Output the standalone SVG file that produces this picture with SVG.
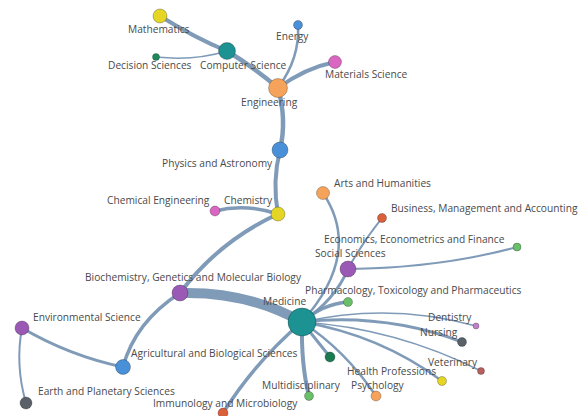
<svg xmlns="http://www.w3.org/2000/svg" width="587" height="416" viewBox="0 0 587 416">
<style>
.e{fill:none;stroke:#7592b2;stroke-linecap:round;stroke-opacity:0.92}
.n{stroke:#000;stroke-opacity:0.25;stroke-width:1}
text{font-family:"Open Sans","Noto Sans",sans-serif;font-size:10.2px;fill:#4a4a4a}
</style>
<rect width="587" height="416" fill="#fff"/>
<g id="connectors">
<path class="e" stroke-width="4" d="M160,16 Q195,38 227,51"/>
<path class="e" stroke-width="1.5" d="M156,57 Q195,61 227,51"/>
<path class="e" stroke-width="4.5" d="M227,51 Q255,68 278,88"/>
<path class="e" stroke-width="2.5" d="M298,25 Q300,58 278,88"/>
<path class="e" stroke-width="4" d="M335,62 Q305,68 278,88"/>
<path class="e" stroke-width="4.5" d="M278,88 Q287,120 280,150"/>
<path class="e" stroke-width="4" d="M280,150 Q272,182 278,214"/>
<path class="e" stroke-width="3.5" d="M215,211 Q245,203 278,214"/>
<path class="e" stroke-width="4" d="M278,214 Q219,241 180,293"/>
<path class="e" stroke-width="10" d="M180,293 Q247,291 302,322"/>
<path class="e" stroke-width="3.5" d="M180,293 Q135,322 123,367"/>
<path class="e" stroke-width="3" d="M123,367 Q70,356 22,328"/>
<path class="e" stroke-width="2" d="M22,328 Q15,365 26,403"/>
<path class="e" stroke-width="3.5" d="M302,322 Q255,362 223,413"/>
<path class="e" stroke-width="4" d="M302,322 Q301,365 309,396"/>
<path class="e" stroke-width="3" d="M302,322 Q318,342 330,357"/>
<path class="e" stroke-width="3.5" d="M302,322 Q323,304 348,302"/>
<path class="e" stroke-width="3" d="M302,322 Q335,300 348,269"/>
<path class="e" stroke-width="2.5" d="M323,193 Q363,253 302,322"/>
<path class="e" stroke-width="2" d="M382,218 Q362,243 348,269"/>
<path class="e" stroke-width="2" d="M517,247 Q440,268 348,269"/>
<path class="e" stroke-width="1.5" d="M302,322 Q390,302 476,326"/>
<path class="e" stroke-width="3" d="M302,322 Q385,313 462,342"/>
<path class="e" stroke-width="1.5" d="M302,322 Q395,328 481,371"/>
<path class="e" stroke-width="2.5" d="M302,322 Q380,335 442,381"/>
<path class="e" stroke-width="2.5" d="M302,322 Q345,350 376,396"/>
</g>
<g id="node-mathematics"><circle class="n" cx="160" cy="16" r="7" fill="#e5d524"/><text x="128" y="33">Mathematics</text></g>
<g id="node-computer-science"><circle class="n" cx="227" cy="51" r="8.5" fill="#1c9292"/><text x="200" y="69">Computer Science</text></g>
<g id="node-decision-sciences"><circle class="n" cx="156" cy="57" r="3.5" fill="#1e8a5c"/><text x="108" y="69">Decision Sciences</text></g>
<g id="node-energy"><circle class="n" cx="298" cy="25" r="4.5" fill="#4a90d9"/><text x="276" y="40">Energy</text></g>
<g id="node-materials-science"><circle class="n" cx="335" cy="62" r="6.5" fill="#d966c0"/><text x="325" y="78">Materials Science</text></g>
<g id="node-engineering"><circle class="n" cx="278" cy="88" r="9.5" fill="#f5a35a"/><text x="241" y="106">Engineering</text></g>
<g id="node-physics"><circle class="n" cx="280" cy="150" r="8" fill="#4a90d9"/><text x="162" y="167">Physics and Astronomy</text></g>
<g id="node-chemical-engineering"><circle class="n" cx="215" cy="211" r="5" fill="#d966c0"/><text x="107" y="204">Chemical Engineering</text></g>
<g id="node-chemistry"><circle class="n" cx="278" cy="214" r="7" fill="#e5d524"/><text x="224" y="204">Chemistry</text></g>
<g id="node-arts"><circle class="n" cx="323" cy="193" r="6.5" fill="#f5a35a"/><text x="334" y="187">Arts and Humanities</text></g>
<g id="node-business"><circle class="n" cx="382" cy="218" r="4.5" fill="#d9603b"/><text x="391" y="212">Business, Management and Accounting</text></g>
<g id="node-economics"><circle class="n" cx="517" cy="247" r="4" fill="#6abf69"/><text x="324" y="243">Economics, Econometrics and Finance</text></g>
<g id="node-social-sciences"><circle class="n" cx="348" cy="269" r="8" fill="#9b59b6"/><text x="315" y="257">Social Sciences</text></g>
<g id="node-biochemistry"><circle class="n" cx="180" cy="293" r="8" fill="#9b59b6"/><text x="85" y="281">Biochemistry, Genetics and Molecular Biology</text></g>
<g id="node-pharmacology"><circle class="n" cx="348" cy="302" r="4.5" fill="#6abf69"/><text x="305" y="294">Pharmacology, Toxicology and Pharmaceutics</text></g>
<g id="node-medicine"><circle class="n" cx="302" cy="322" r="14" fill="#1c9292"/><text x="263" y="305">Medicine</text></g>
<g id="node-environmental"><circle class="n" cx="22" cy="328" r="7" fill="#9b59b6"/><text x="33" y="321">Environmental Science</text></g>
<g id="node-agricultural"><circle class="n" cx="123" cy="367" r="7.5" fill="#4a90d9"/><text x="131" y="357">Agricultural and Biological Sciences</text></g>
<g id="node-earth"><circle class="n" cx="26" cy="403" r="6" fill="#5a6068"/><text x="38" y="395">Earth and Planetary Sciences</text></g>
<g id="node-immunology"><circle class="n" cx="223" cy="413" r="5" fill="#d9603b"/><text x="153" y="407">Immunology and Microbiology</text></g>
<g id="node-multidisciplinary"><circle class="n" cx="309" cy="396" r="4.5" fill="#6abf69"/><text x="262" y="389">Multidisciplinary</text></g>
<g id="node-unlabeled"><circle class="n" cx="330" cy="357" r="5" fill="#1a7a50"/></g>
<g id="node-dentistry"><circle class="n" cx="476" cy="326" r="3" fill="#c080c8"/><text x="428" y="321">Dentistry</text></g>
<g id="node-nursing"><circle class="n" cx="462" cy="342" r="4.5" fill="#5a6068"/><text x="420" y="336">Nursing</text></g>
<g id="node-veterinary"><circle class="n" cx="481" cy="371" r="3.5" fill="#b86060"/><text x="428" y="366">Veterinary</text></g>
<g id="node-health-professions"><circle class="n" cx="442" cy="381" r="4.5" fill="#e5d524"/><text x="347" y="375">Health Professions</text></g>
<g id="node-psychology"><circle class="n" cx="376" cy="396" r="5" fill="#f5a35a"/><text x="351" y="389">Psychology</text></g>
</svg>
